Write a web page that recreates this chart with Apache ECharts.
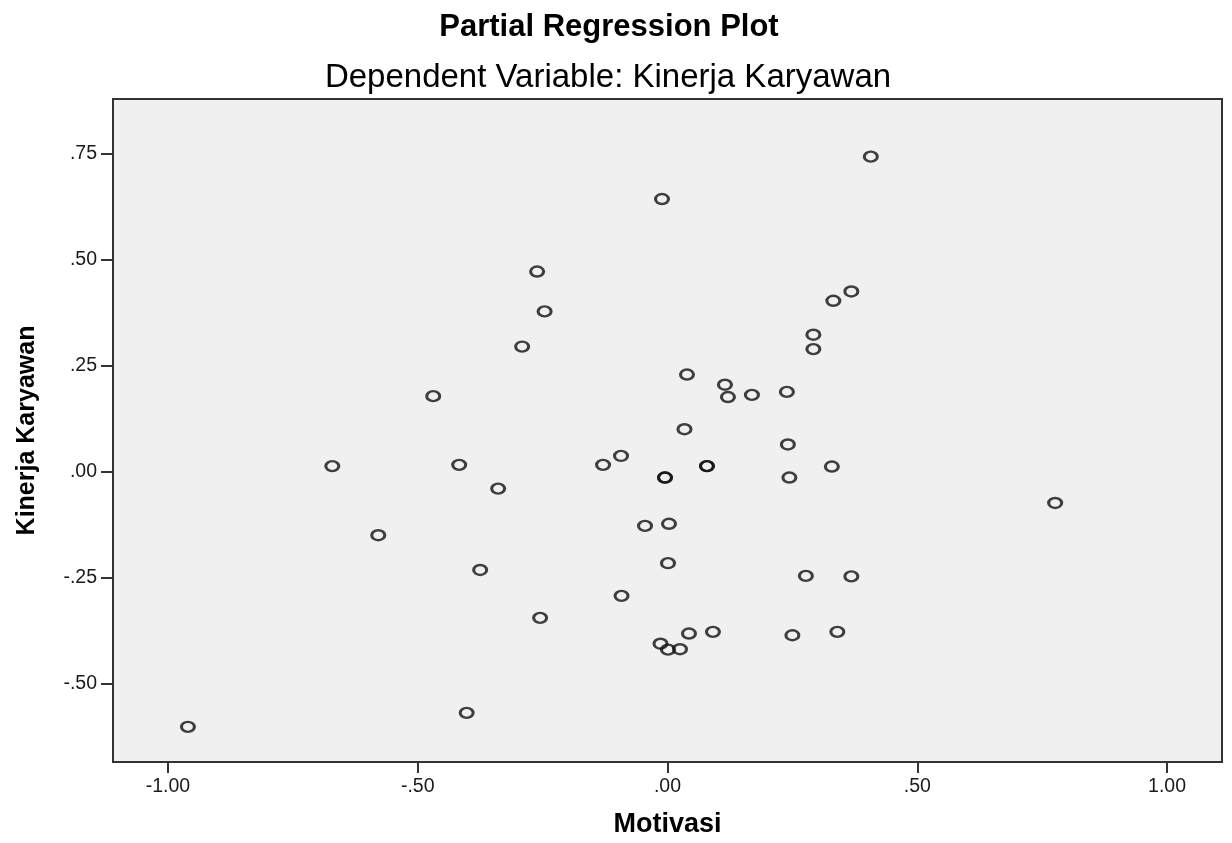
<!DOCTYPE html>
<html>
<head>
<meta charset="utf-8">
<script src="https://cdn.jsdelivr.net/npm/echarts@6/dist/echarts.min.js"></script>
<style>
  html, body { margin: 0; padding: 0; background: #ffffff; }
  #chart { width: 1232px; height: 843px; }
</style>
</head>
<body>
<div id="chart"></div>
<script>
// ---- data ----
const titleText = 'Partial Regression Plot';
const subtitleText = 'Dependent Variable: Kinerja Karyawan';
const xAxisName = 'Motivasi';
const yAxisName = 'Kinerja Karyawan';

const motivasi = [
  -0.960, -0.671, -0.579, -0.469, -0.417, -0.402, -0.375, -0.339, -0.291, -0.261,
  -0.255, -0.246, -0.129, -0.093, -0.092, -0.045, -0.014, -0.011, -0.005, -0.005,
   0.001,  0.001,  0.003,  0.025,  0.034,  0.039,  0.043,  0.079,  0.079,  0.091,
   0.115,  0.121,  0.169,  0.239,  0.241,  0.244,  0.250,  0.277,  0.292,  0.292,
   0.329,  0.332,  0.340,  0.368,  0.368,  0.407,  0.776
];
const kinerja = [
  -0.601,  0.014, -0.149,  0.179,  0.017, -0.568, -0.231, -0.039,  0.296,  0.473,
  -0.344,  0.379,  0.017,  0.038, -0.292, -0.127, -0.405,  0.644, -0.013, -0.013,
  -0.419, -0.215, -0.122, -0.418,  0.101,  0.230, -0.381,  0.014,  0.014, -0.377,
   0.206,  0.177,  0.182,  0.189,  0.065, -0.013, -0.385, -0.245,  0.324,  0.290,
   0.013,  0.404, -0.377,  0.426, -0.246,  0.744, -0.073
];

const xTickValues = [-1.0, -0.5, 0.0, 0.5, 1.0];
const xTickLabels = ['-1.00', '-.50', '.00', '.50', '1.00'];
const yTickValues = [-0.5, -0.25, 0.0, 0.25, 0.5, 0.75];
const yTickLabels = ['-.50', '-.25', '.00', '.25', '.50', '.75'];

// ---- chart ----
const FONT = "'Liberation Sans', Arial, sans-serif";
const points = motivasi.map((x, i) => [x, kinerja[i]]);

function lookup(values, labels) {
  return function (v) {
    let best = 0, bd = Infinity;
    values.forEach((t, i) => { const d = Math.abs(t - v); if (d < bd) { bd = d; best = i; } });
    return labels[best];
  };
}

const chart = echarts.init(document.getElementById('chart'), null, { renderer: 'canvas' });
chart.setOption({
  backgroundColor: '#ffffff',
  animation: false,
  graphic: [
    { type: 'text', x: 609, y: 27,
      style: { text: titleText, textAlign: 'center', textVerticalAlign: 'middle',
               font: 'bold 31px ' + FONT, fill: '#000' } },
    { type: 'text', x: 608, y: 78,
      style: { text: subtitleText, textAlign: 'center', textVerticalAlign: 'middle',
               font: '33px ' + FONT, fill: '#000' } }
  ],
  grid: {
    left: 113, right: 10, top: 99, bottom: 81,
    show: true, backgroundColor: '#f0f0f0', borderColor: '#333', borderWidth: 2,
    containLabel: false
  },
  xAxis: {
    type: 'value', min: -1.11, max: 1.11,
    name: xAxisName, nameLocation: 'middle', nameGap: 49,
    nameTextStyle: { fontFamily: FONT, fontWeight: 'bold', fontSize: 27, color: '#000' },
    axisLine: { show: true, onZero: false, lineStyle: { color: '#333', width: 2 } },
    axisTick: { show: true, customValues: xTickValues, length: 11, lineStyle: { color: '#333', width: 2 } },
    axisLabel: { show: true, customValues: xTickValues, formatter: lookup(xTickValues, xTickLabels),
                 margin: 15, fontFamily: FONT, fontSize: 19.5, color: '#1a1a1a' },
    splitLine: { show: false }
  },
  yAxis: {
    type: 'value', min: -0.684, max: 0.880,
    name: yAxisName, nameLocation: 'middle', nameGap: 73, nameRotate: 90,
    nameTextStyle: { fontFamily: FONT, fontWeight: 'bold', fontSize: 25, color: '#000' },
    axisLine: { show: true, onZero: false, lineStyle: { color: '#333', width: 2 } },
    axisTick: { show: true, customValues: yTickValues, length: 12, lineStyle: { color: '#333', width: 2 } },
    axisLabel: { show: true, customValues: yTickValues, formatter: lookup(yTickValues, yTickLabels),
                 margin: 16, fontFamily: FONT, fontSize: 19.5, color: '#1a1a1a' },
    splitLine: { show: false }
  },
  series: [{
    type: 'scatter',
    data: points,
    symbol: 'circle',
    symbolSize: [13, 10],
    itemStyle: { color: 'rgba(0,0,0,0)', borderColor: '#111', borderWidth: 2.7 },
    emphasis: { disabled: true }
  }]
});
</script>
</body>
</html>
